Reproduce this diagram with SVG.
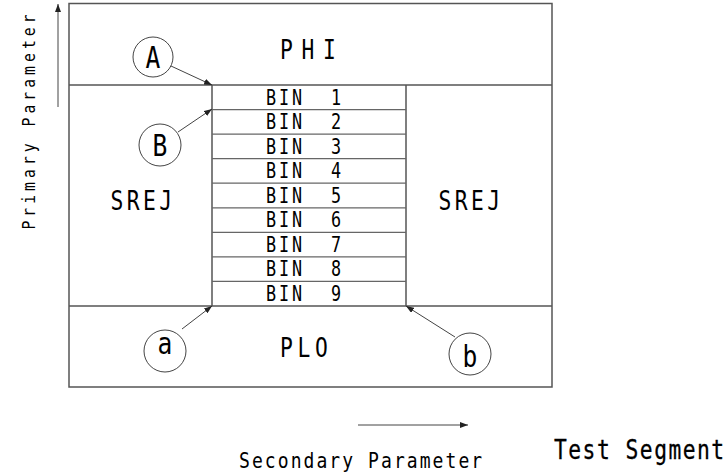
<svg xmlns="http://www.w3.org/2000/svg" width="725" height="475" viewBox="0 0 725 475">
<style>
.ln{stroke:#555;stroke-width:1.5;fill:none}
.sep{stroke:#666;stroke-width:1.2;fill:none}
.ar{stroke:#444;stroke-width:1;fill:none}
.c{stroke:#444;stroke-width:1;fill:#fff}
text{font-family:"DejaVu Sans Mono","Liberation Mono",monospace;fill:#000}
.bin{font-size:20.5px;letter-spacing:3.5px}
.big{font-size:26px}
.lbl{font-size:30px;text-anchor:middle}
</style>
<defs>
<marker id="ah" viewBox="0 0 8 6" refX="8" refY="3" markerWidth="8" markerHeight="6" markerUnits="userSpaceOnUse" orient="auto">
<path d="M0,0 L8,3 L0,6 z" fill="#222"/>
</marker>
</defs>
<g id="frame">
<rect x="69" y="3.5" width="483" height="383.5" class="ln"/>
<line x1="69" y1="85" x2="552" y2="85" class="ln"/>
<line x1="69" y1="306" x2="552" y2="306" class="ln"/>
</g>
<g id="bins">
<line x1="212" y1="85" x2="212" y2="306" class="ln"/>
<line x1="406" y1="85" x2="406" y2="306" class="ln"/>
<line x1="212" y1="109.6" x2="406" y2="109.6" class="sep"/>
<line x1="212" y1="134.1" x2="406" y2="134.1" class="sep"/>
<line x1="212" y1="158.7" x2="406" y2="158.7" class="sep"/>
<line x1="212" y1="183.2" x2="406" y2="183.2" class="sep"/>
<line x1="212" y1="207.8" x2="406" y2="207.8" class="sep"/>
<line x1="212" y1="232.3" x2="406" y2="232.3" class="sep"/>
<line x1="212" y1="256.9" x2="406" y2="256.9" class="sep"/>
<line x1="212" y1="281.4" x2="406" y2="281.4" class="sep"/>
<text class="bin" transform="translate(266,104.5) scale(0.82,1)" xml:space="preserve">BIN  1</text>
<text class="bin" transform="translate(266,129.1) scale(0.82,1)" xml:space="preserve">BIN  2</text>
<text class="bin" transform="translate(266,153.6) scale(0.82,1)" xml:space="preserve">BIN  3</text>
<text class="bin" transform="translate(266,178.2) scale(0.82,1)" xml:space="preserve">BIN  4</text>
<text class="bin" transform="translate(266,202.7) scale(0.82,1)" xml:space="preserve">BIN  5</text>
<text class="bin" transform="translate(266,227.3) scale(0.82,1)" xml:space="preserve">BIN  6</text>
<text class="bin" transform="translate(266,251.8) scale(0.82,1)" xml:space="preserve">BIN  7</text>
<text class="bin" transform="translate(266,276.4) scale(0.82,1)" xml:space="preserve">BIN  8</text>
<text class="bin" transform="translate(266,300.9) scale(0.82,1)" xml:space="preserve">BIN  9</text>
</g>
<g id="region-phi"><text class="big" transform="translate(280,59) scale(0.82,1)" style="letter-spacing:10.5px">PHI</text></g>
<g id="region-plo"><text class="big" transform="translate(280,357) scale(0.82,1)" style="letter-spacing:5.7px">PLO</text></g>
<g id="region-srej-left"><text class="big" transform="translate(110.5,210) scale(0.82,1)" style="letter-spacing:4.2px">SREJ</text></g>
<g id="region-srej-right"><text class="big" transform="translate(438.5,210) scale(0.82,1)" style="letter-spacing:4.2px">SREJ</text></g>
<g id="connectors">
<line x1="171" y1="66" x2="212" y2="85" class="ar" marker-end="url(#ah)"/>
<line x1="178" y1="132" x2="212" y2="109" class="ar" marker-end="url(#ah)"/>
<line x1="182" y1="329" x2="212" y2="306" class="ar" marker-end="url(#ah)"/>
<line x1="455" y1="337" x2="406" y2="306" class="ar" marker-end="url(#ah)"/>
<line x1="58" y1="107" x2="58" y2="4" class="ar" marker-end="url(#ah)"/>
<line x1="358" y1="425" x2="468" y2="425" class="ar" marker-end="url(#ah)"/>
</g>
<g id="label-A"><circle cx="153" cy="57" r="20" class="c"/><text class="lbl" transform="translate(153,67.5) scale(0.82,1)">A</text></g>
<g id="label-B"><circle cx="160" cy="145" r="21" class="c"/><text class="lbl" transform="translate(160,156) scale(0.82,1)">B</text></g>
<g id="label-a"><circle cx="165" cy="351" r="21" class="c"/><text class="lbl" transform="translate(165,354) scale(0.82,1)">a</text></g>
<g id="label-b"><circle cx="470" cy="354" r="21" class="c"/><text class="lbl" transform="translate(470,367) scale(0.82,1)">b</text></g>
<g id="axis-labels">
<text transform="translate(35,120) rotate(-90) scale(0.82,1)" style="font-size:18px;letter-spacing:4.9px;text-anchor:middle">Primary Parameter</text>
<text transform="translate(239,468) scale(0.82,1)" style="font-size:22px;letter-spacing:2.5px">Secondary Parameter</text>
<text transform="translate(554,459) scale(0.82,1)" style="font-size:26px;letter-spacing:1.8px;stroke:#000;stroke-width:0.3">Test Segment</text>
</g>
</svg>
